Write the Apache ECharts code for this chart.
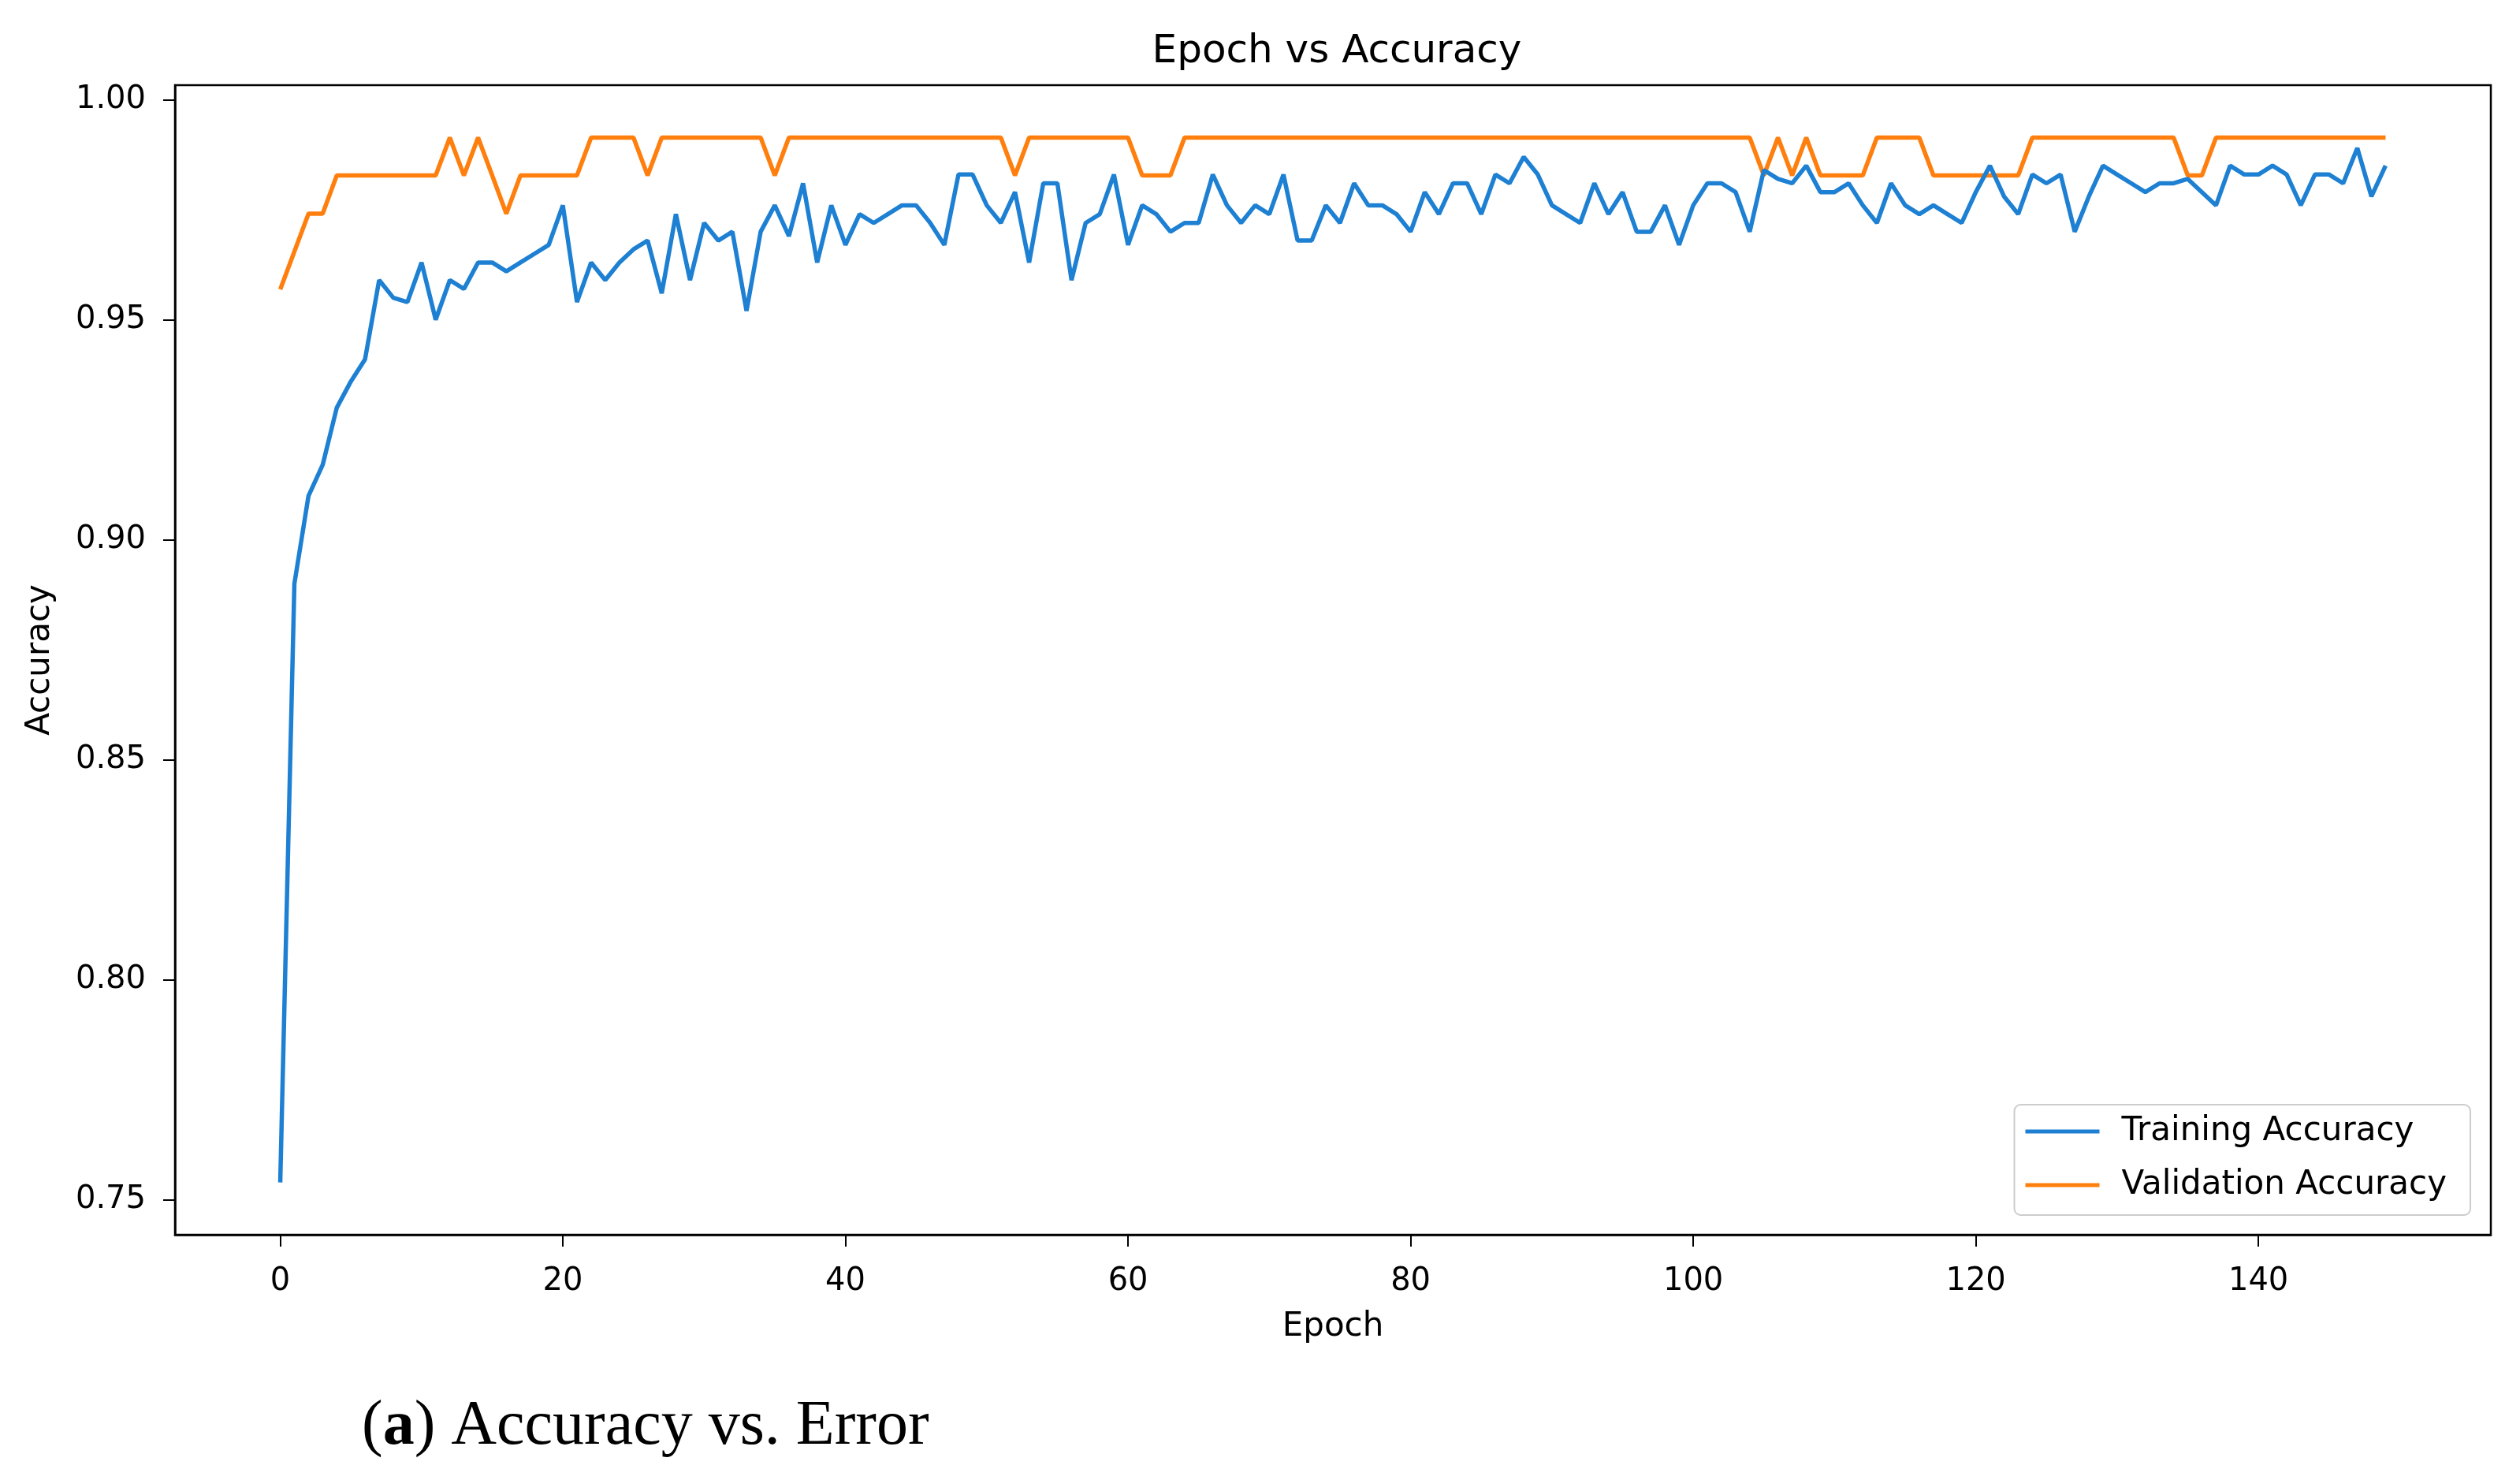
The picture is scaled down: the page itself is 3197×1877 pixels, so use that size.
<!DOCTYPE html>
<html>
<head>
<meta charset="utf-8">
<script src="https://cdn.jsdelivr.net/npm/echarts@6/dist/echarts.min.js"></script>
<style>html,body{margin:0;padding:0;background:#fff}#c{width:3197px;height:1877px}</style>
</head>
<body>
<div id="c"></div>
<script>
const trainAcc = [
  0.754,0.890,0.910,0.917,0.930,0.936,0.941,0.959,0.955,0.954,
  0.963,0.950,0.959,0.957,0.963,0.963,0.961,0.963,0.965,0.967,
  0.976,0.954,0.963,0.959,0.963,0.966,0.968,0.956,0.974,0.959,
  0.972,0.968,0.970,0.952,0.970,0.976,0.969,0.981,0.963,0.976,
  0.967,0.974,0.972,0.974,0.976,0.976,0.972,0.967,0.983,0.983,
  0.976,0.972,0.979,0.963,0.981,0.981,0.959,0.972,0.974,0.983,
  0.967,0.976,0.974,0.970,0.972,0.972,0.983,0.976,0.972,0.976,
  0.974,0.983,0.968,0.968,0.976,0.972,0.981,0.976,0.976,0.974,
  0.970,0.979,0.974,0.981,0.981,0.974,0.983,0.981,0.987,0.983,
  0.976,0.974,0.972,0.981,0.974,0.979,0.970,0.970,0.976,0.967,
  0.976,0.981,0.981,0.979,0.970,0.984,0.982,0.981,0.985,0.979,
  0.979,0.981,0.976,0.972,0.981,0.976,0.974,0.976,0.974,0.972,
  0.979,0.985,0.978,0.974,0.983,0.981,0.983,0.970,0.978,0.985,
  0.983,0.981,0.979,0.981,0.981,0.982,0.979,0.976,0.985,0.983,
  0.983,0.985,0.983,0.976,0.983,0.983,0.981,0.989,0.978,0.985
];
const valAcc = [
  0.9569,0.9655,0.9741,0.9741,0.9828,0.9828,0.9828,0.9828,0.9828,0.9828,
  0.9828,0.9828,0.9914,0.9828,0.9914,0.9828,0.9741,0.9828,0.9828,0.9828,
  0.9828,0.9828,0.9914,0.9914,0.9914,0.9914,0.9828,0.9914,0.9914,0.9914,
  0.9914,0.9914,0.9914,0.9914,0.9914,0.9828,0.9914,0.9914,0.9914,0.9914,
  0.9914,0.9914,0.9914,0.9914,0.9914,0.9914,0.9914,0.9914,0.9914,0.9914,
  0.9914,0.9914,0.9828,0.9914,0.9914,0.9914,0.9914,0.9914,0.9914,0.9914,
  0.9914,0.9828,0.9828,0.9828,0.9914,0.9914,0.9914,0.9914,0.9914,0.9914,
  0.9914,0.9914,0.9914,0.9914,0.9914,0.9914,0.9914,0.9914,0.9914,0.9914,
  0.9914,0.9914,0.9914,0.9914,0.9914,0.9914,0.9914,0.9914,0.9914,0.9914,
  0.9914,0.9914,0.9914,0.9914,0.9914,0.9914,0.9914,0.9914,0.9914,0.9914,
  0.9914,0.9914,0.9914,0.9914,0.9914,0.9828,0.9914,0.9828,0.9914,0.9828,
  0.9828,0.9828,0.9828,0.9914,0.9914,0.9914,0.9914,0.9828,0.9828,0.9828,
  0.9828,0.9828,0.9828,0.9828,0.9914,0.9914,0.9914,0.9914,0.9914,0.9914,
  0.9914,0.9914,0.9914,0.9914,0.9914,0.9828,0.9828,0.9914,0.9914,0.9914,
  0.9914,0.9914,0.9914,0.9914,0.9914,0.9914,0.9914,0.9914,0.9914,0.9914
];
const xTicks = [0, 20, 40, 60, 80, 100, 120, 140];
const yTicks = [0.75, 0.80, 0.85, 0.90, 0.95, 1.00];
const seriesNames = ['Training Accuracy', 'Validation Accuracy'];
const titleText = 'Epoch vs Accuracy';
const xName = 'Epoch';
const yName = 'Accuracy';

const FONT = 'DejaVu Sans';
const chart = echarts.init(document.getElementById('c'), null, {renderer: 'canvas'});
const pairs = arr => arr.map((v, i) => [i, v]);

chart.setOption({
  animation: false,
  backgroundColor: '#ffffff',
  title: {
    text: titleText,
    left: 1691, top: 36,
    textAlign: 'center',
    textStyle: {fontFamily: FONT, fontSize: 50, fontWeight: 'normal', color: '#000'}
  },
  grid: {
    left: 222, right: 37, top: 108, bottom: 311,
    show: true, borderColor: '#000', borderWidth: 2.5, backgroundColor: 'transparent'
  },
  legend: {
    orient: 'vertical',
    right: 63, top: 1401,
    data: seriesNames.map(n => ({name: n, icon: 'rect'})),
    itemWidth: 94, itemHeight: 5, itemGap: 18,
    padding: [9, 30, 13, 14],
    borderColor: '#cccccc', borderWidth: 2, borderRadius: 8,
    backgroundColor: '#fff',
    textStyle: {fontFamily: FONT, fontSize: 42, color: '#000', lineHeight: 50, padding: [0, 0, 0, 23]}
  },
  xAxis: {
    type: 'value', min: -7.45, max: 156.45,
    name: xName, nameLocation: 'middle', nameGap: 96,
    nameTextStyle: {fontFamily: FONT, fontSize: 42, color: '#000'},
    axisLine: {show: true, onZero: false, lineStyle: {color: '#000', width: 2.5}},
    axisTick: {show: true, customValues: xTicks, length: 15, lineStyle: {color: '#000', width: 2}},
    axisLabel: {customValues: xTicks, margin: 40, fontFamily: FONT, fontSize: 40, color: '#000'},
    splitLine: {show: false}
  },
  yAxis: {
    type: 'value', min: 0.7421, max: 1.0033,
    name: yName, nameLocation: 'middle', nameGap: 150, nameRotate: 90,
    nameTextStyle: {fontFamily: FONT, fontSize: 42, color: '#000'},
    axisLine: {show: true, onZero: false, lineStyle: {color: '#000', width: 2.5}},
    axisTick: {show: true, customValues: yTicks, length: 15, lineStyle: {color: '#000', width: 2}},
    axisLabel: {customValues: yTicks, margin: 37, fontFamily: FONT, fontSize: 40, color: '#000',
      formatter: v => v.toFixed(2)},
    splitLine: {show: false}
  },
  series: [
    {name: seriesNames[0], type: 'line', data: pairs(trainAcc), showSymbol: false, symbol: 'none',
      lineStyle: {color: '#1e80d2', width: 5.5}, itemStyle: {color: '#1e80d2'}, z: 3},
    {name: seriesNames[1], type: 'line', data: pairs(valAcc), showSymbol: false, symbol: 'none',
      lineStyle: {color: '#ff7f0e', width: 5.5}, itemStyle: {color: '#ff7f0e'}, z: 2}
  ],
  graphic: [{
    type: 'text', left: 459, top: 1770,
    style: {
      text: '{n|(}{b|a}{n|) Accuracy vs. Error}',
      rich: {
        n: {fontFamily: 'Liberation Serif', fontSize: 80, fill: '#000'},
        b: {fontFamily: 'Liberation Serif', fontSize: 80, fontWeight: 'bold', fill: '#000'}
      },
      fill: '#000', fontFamily: 'Liberation Serif', fontSize: 80
    }
  }]
});
</script>
</body>
</html>
